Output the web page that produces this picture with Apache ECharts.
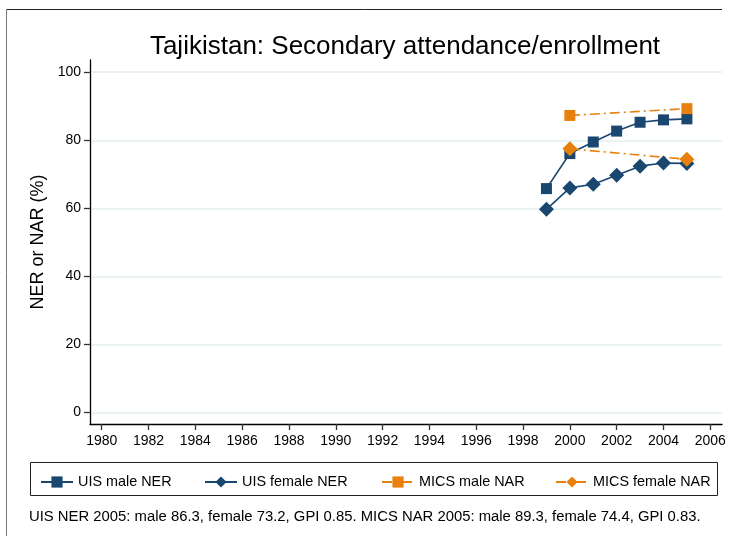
<!DOCTYPE html>
<html>
<head>
<meta charset="utf-8">
<script src="https://cdn.jsdelivr.net/npm/echarts@6/dist/echarts.min.js"></script>
<style>
  html, body { margin: 0; padding: 0; background: #fff; }
  #chart { width: 731px; height: 536px; }
</style>
</head>
<body>
<div id="chart"></div>
<script>
// data
var uisYears = [1999, 2000, 2001, 2002, 2003, 2004, 2005];
var uisMale = [65.8, 76.1, 79.5, 82.7, 85.3, 86.0, 86.3];
var uisFemale = [59.7, 66.0, 67.1, 69.7, 72.4, 73.3, 73.2];
var micsYears = [2000, 2005];
var micsMale = [87.3, 89.3];
var micsFemale = [77.5, 74.4];
var xTicks = [1980, 1982, 1984, 1986, 1988, 1990, 1992, 1994, 1996, 1998, 2000, 2002, 2004, 2006];
var yTicks = [0, 20, 40, 60, 80, 100];

var navy = '#1a476f';
var orange = '#e8800d';
var font = 'Liberation Sans, Arial, sans-serif';

function pairs(xs, ys) {
  return xs.map(function (x, i) { return [x, ys[i]]; });
}

var chart = echarts.init(document.getElementById('chart'));

var legendBase = {
  top: 470,
  itemWidth: 32,
  itemHeight: 14,
  itemGap: 5,
  textStyle: { fontFamily: font, fontSize: 14.4, color: '#000' }
};

chart.setOption({
  animation: false,
  title: [
    {
      text: 'Tajikistan: Secondary attendance/enrollment',
      left: 400,
      textAlign: 'center',
      top: 29,
      textStyle: { fontFamily: font, fontSize: 26, fontWeight: 'normal', color: '#000' }
    },
    {
      text: 'UIS NER 2005: male 86.3, female 73.2, GPI 0.85. MICS NAR 2005: male 89.3, female 74.4, GPI 0.83.',
      left: 24,
      top: 504,
      textStyle: { fontFamily: font, fontSize: 14.85, fontWeight: 'normal', color: '#000' }
    }
  ],
  legend: [
    Object.assign({ left: 35, data: ['UIS male NER'] }, legendBase),
    Object.assign({ left: 199, data: ['UIS female NER'] }, legendBase),
    Object.assign({ left: 376, data: ['MICS male NAR'] }, legendBase),
    Object.assign({ left: 550, data: ['MICS female NAR'] }, legendBase)
  ],
  grid: { left: 90, right: 9, top: 60, bottom: 112 },
  xAxis: {
    type: 'value',
    min: 1979.5,
    max: 2006.5,
    axisLine: { onZero: false, lineStyle: { color: '#000', width: 1.3 } },
    axisTick: { customValues: xTicks, length: 6, lineStyle: { color: '#333', width: 1.3 } },
    axisLabel: {
      customValues: xTicks,
      formatter: function (v) { return String(v); },
      fontFamily: font, fontSize: 14, color: '#000', margin: 10
    },
    splitLine: { show: false }
  },
  yAxis: {
    type: 'value',
    min: -3.4,
    max: 103.6,
    name: 'NER or NAR (%)',
    nameLocation: 'middle',
    nameGap: 43,
    nameTextStyle: { fontFamily: font, fontSize: 18, color: '#000' },
    axisLine: { show: true, onZero: false, lineStyle: { color: '#000', width: 1.3 } },
    axisTick: { show: true, customValues: yTicks, length: 6, lineStyle: { color: '#333', width: 1.3 } },
    axisLabel: {
      customValues: yTicks,
      fontFamily: font, fontSize: 14, color: '#000', margin: 9
    },
    splitLine: { show: true, lineStyle: { color: '#eaf2f3', width: 2 } }
  },
  series: [
    {
      name: 'UIS male NER',
      type: 'line',
      data: pairs(uisYears, uisMale),
      symbol: 'rect',
      symbolSize: 11,
      itemStyle: { color: navy },
      lineStyle: { color: navy, width: 1.6 }
    },
    {
      name: 'UIS female NER',
      type: 'line',
      data: pairs(uisYears, uisFemale),
      symbol: 'diamond',
      symbolSize: 15,
      itemStyle: { color: navy },
      lineStyle: { color: navy, width: 1.6 }
    },
    {
      name: 'MICS male NAR',
      type: 'line',
      data: pairs(micsYears, micsMale),
      symbol: 'rect',
      symbolSize: 11,
      itemStyle: { color: orange },
      lineStyle: { color: orange, width: 1.6, type: [10, 4, 2, 4] }
    },
    {
      name: 'MICS female NAR',
      type: 'line',
      data: pairs(micsYears, micsFemale),
      symbol: 'diamond',
      symbolSize: 15,
      itemStyle: { color: orange },
      lineStyle: { color: orange, width: 1.6, type: [10, 4, 2, 4] }
    }
  ],
  graphic: [
    // outer frame (top and left edges)
    { type: 'line', shape: { x1: 6.5, y1: 9.5, x2: 722, y2: 9.5 }, style: { stroke: '#222', lineWidth: 1 }, silent: true },
    { type: 'line', shape: { x1: 6.5, y1: 9.5, x2: 6.5, y2: 536 }, style: { stroke: '#777', lineWidth: 1 }, silent: true },
    // legend box
    { type: 'rect', shape: { x: 30.5, y: 462.5, width: 687, height: 33 }, style: { fill: 'none', stroke: '#222', lineWidth: 1 }, silent: true }
  ]
});
</script>
</body>
</html>
